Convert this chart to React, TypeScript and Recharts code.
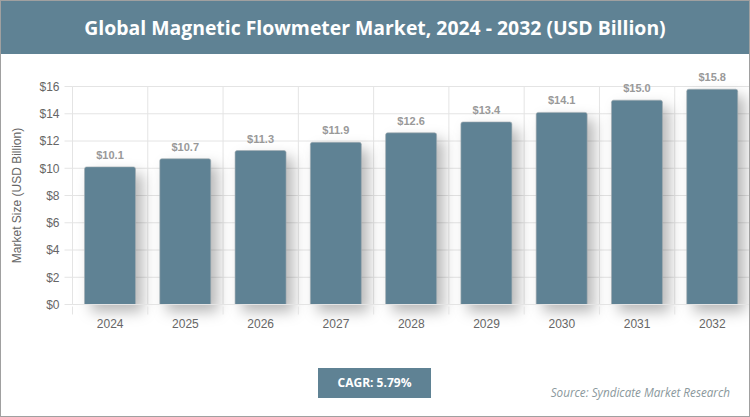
import { BarChart, Bar, XAxis, YAxis, CartesianGrid, LabelList, Rectangle } from "recharts";

const YEARS = ["2024", "2025", "2026", "2027", "2028", "2029", "2030", "2031", "2032"];
const MARKET_SIZE = [10.1, 10.7, 11.3, 11.9, 12.6, 13.4, 14.1, 15.0, 15.8];
const Y_TICKS = [0, 2, 4, 6, 8, 10, 12, 14, 16];

const TITLE = "Global Magnetic Flowmeter Market, 2024 - 2032 (USD Billion)";
const CAGR = "CAGR: 5.79%";
const SOURCE = "Source: Syndicate Market Research";

const TEAL = "#5f8294";
const GRID = "#e4e4e4";
const SANS = '"Liberation Sans", Arial, sans-serif';
const HEAD = '"Open Sans", "Noto Sans", sans-serif';

const rows = YEARS.map((year, i) => ({ year, value: MARKET_SIZE[i] }));

// Grid lines sit on the category boundaries, not the band centres.
function boundaryLines({ offset }: any) {
  const step = offset.width / YEARS.length;
  return Array.from({ length: YEARS.length + 1 }, (_, i) => offset.left + i * step);
}

function YearTick({ x, y, payload, index }: any) {
  const half = payload.offset ?? 37.6;
  const axisY = y - 8;
  return (
    <g>
      <line x1={x - half} x2={x - half} y1={axisY} y2={axisY + 8} stroke={GRID} />
      {index === YEARS.length - 1 && (
        <line x1={x + half} x2={x + half} y1={axisY} y2={axisY + 8} stroke={GRID} />
      )}
      <text x={x} y={axisY + 24} textAnchor="middle" fontFamily={SANS} fontSize={12} fill="#666" dy={-3}>
        {payload.value}
      </text>
    </g>
  );
}

function ShadowBar(props: any) {
  return (
    <Rectangle
      {...props}
      radius={[2, 2, 0, 0]}
      stroke="#a3adb2"
      strokeWidth={0.6}
      style={{ filter: "drop-shadow(7px 7px 7px rgba(0,0,0,0.28))" }}
    />
  );
}

export default function App() {
  return (
    <div style={{ position: "absolute", left: 0, top: 0, width: 750, height: 417, background: "#fff", overflow: "hidden" }}>
      <BarChart
        width={750}
        height={417}
        data={rows}
        margin={{ top: 86.5, right: 0, bottom: 0, left: 0 }}
        style={{ position: "absolute", left: 0, top: 0 }}
      >
        <CartesianGrid stroke={GRID} verticalCoordinatesGenerator={boundaryLines} />
        <XAxis
          dataKey="year"
          height={112.5}
          tickLine={false}
          tickSize={8}
          axisLine={{ stroke: GRID }}
          tick={<YearTick />}
          interval={0}
        />
        <YAxis
          width={72.5}
          domain={[0, 16]}
          ticks={Y_TICKS}
          interval={0}
          tickFormatter={(v: number) => `$${v}`}
          tickSize={8}
          tickMargin={5}
          tickLine={{ stroke: GRID }}
          axisLine={{ stroke: GRID }}
          tick={{ fontFamily: SANS, fontSize: 12, fill: "#666" }}
          label={{
            value: "Market Size (USD Billion)",
            angle: -90,
            position: "insideLeft",
            offset: 17,
            style: { fontFamily: SANS, fontSize: 12, fill: "#666", textAnchor: "middle" },
          }}
        />
        <Bar dataKey="value" fill={TEAL} barSize={51} shape={ShadowBar} isAnimationActive={false}>
          <LabelList
            dataKey="value"
            position="top"
            offset={8}
            formatter={(v: number) => `$${v.toFixed(1)}`}
            style={{ fontFamily: SANS, fontSize: 11, fontWeight: 700, fill: "#999" }}
          />
        </Bar>
      </BarChart>

      <div
        style={{
          position: "absolute",
          left: 1,
          top: 1,
          width: 748,
          height: 53,
          background: TEAL,
          color: "#fff",
          fontFamily: HEAD,
          fontWeight: 700,
          fontSize: 19.4,
          lineHeight: "53px",
          textAlign: "center",
        }}
      >
        {TITLE}
      </div>
      <div
        style={{
          position: "absolute",
          left: 318,
          top: 368,
          width: 113,
          height: 30,
          background: TEAL,
          color: "#fff",
          fontFamily: HEAD,
          fontWeight: 700,
          fontSize: 12,
          lineHeight: "30px",
          textAlign: "center",
        }}
      >
        {CAGR}
      </div>
      <div
        style={{
          position: "absolute",
          right: 20,
          top: 384,
          color: "#8a989c",
          fontFamily: HEAD,
          fontStyle: "italic",
          fontSize: 11.7,
          lineHeight: "17px",
          whiteSpace: "nowrap",
        }}
      >
        {SOURCE}
      </div>
      <div style={{ position: "absolute", inset: 0, border: "1px solid #a0a0a0", pointerEvents: "none" }} />
    </div>
  );
}
